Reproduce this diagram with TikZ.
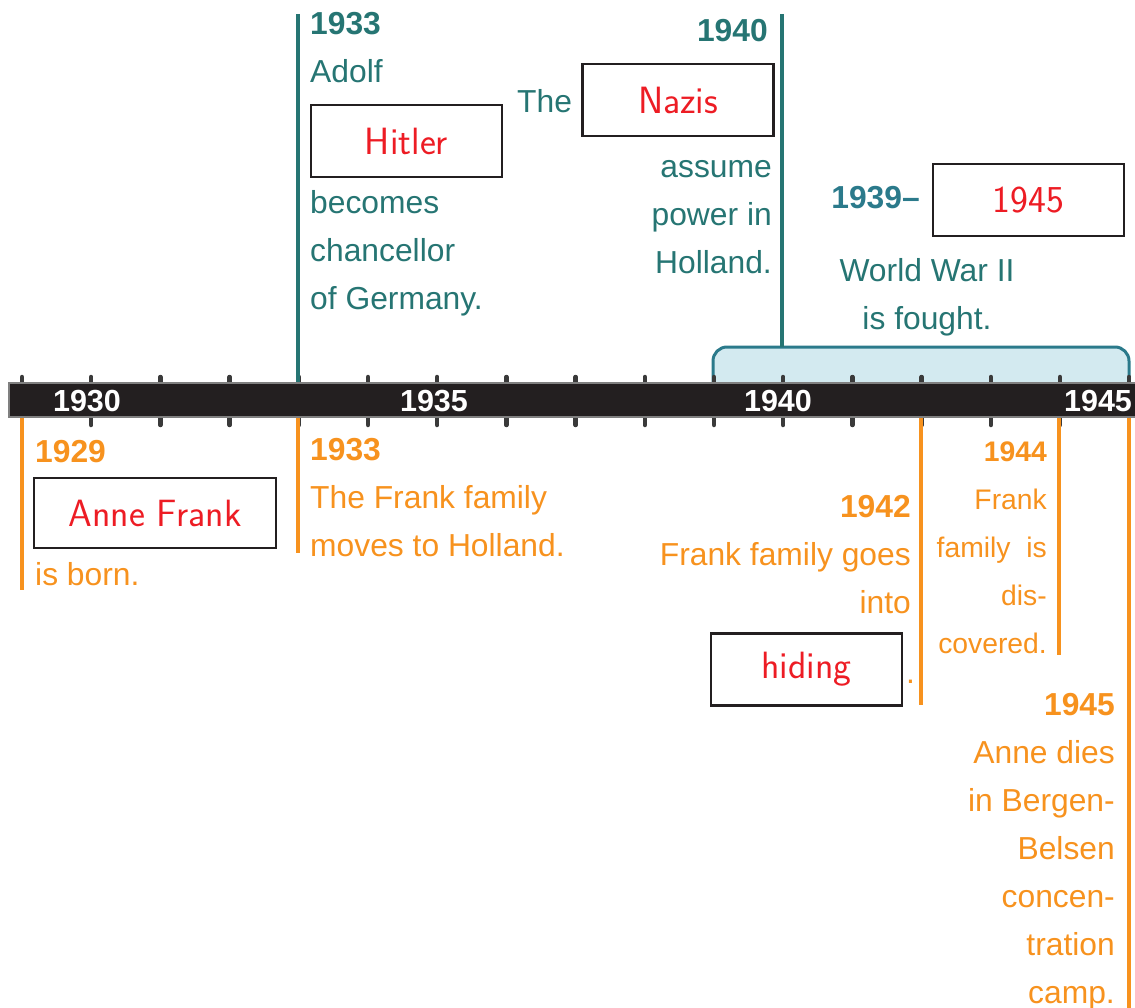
\documentclass[tikz,border=0pt]{standalone}
\usepackage{fontspec}
\setmainfont{Liberation Sans}
\usepackage{xcolor}
\usetikzlibrary{positioning,calc}
\definecolor{tealT}{HTML}{267573}
\definecolor{tealB}{HTML}{2B7A8B}
\definecolor{orangeO}{HTML}{F7921E}
\definecolor{redW}{HTML}{ED1C24}
\definecolor{barblack}{HTML}{231F20}
\definecolor{brfill}{HTML}{D3EAF0}
\definecolor{tickgray}{HTML}{3A3A3A}

\begin{document}
\begin{tikzpicture}[
          x=1pt, y=-1pt,
          lblT/.style={font={\fontsize{31.8}{48}\selectfont}, text=tealT, inner sep=0},
          lblO/.style={font={\fontsize{31.8}{48}\selectfont}, text=orangeO, inner sep=0},
          yrT/.style={font={\fontsize{31.8}{48}\selectfont\bfseries}, text=tealT, inner sep=0},
          yrO/.style={font={\fontsize{31.8}{48}\selectfont\bfseries}, text=orangeO, inner sep=0},
          narrow/.style={font={\fontsize{28.3}{48}\selectfont}},
          yrbar/.style={font={\fontsize{30.5}{36}\selectfont\bfseries}, text=white, inner sep=0},
          wordbox/.style={draw=barblack, line width=2.8, minimum width=191, minimum height=72, inner sep=0,
            font={\sffamily\fontsize{38}{40}\selectfont}, text=redW},
          lineT/.style={draw=tealT, line width=4.5},
          lineO/.style={draw=orangeO, line width=4},
          tk/.style={draw=tickgray, line width=4.5, line cap=round},
          brk/.style={draw=tealB, fill=brfill, line width=3, rounded corners=14}
      ]
        \useasboundingbox (0,0) rectangle (1135,1008);
        \draw[brk] (713,383) -- (713,347) -- (1129,347) -- (1129,383);
        \foreach \k in {0,...,16}
          \draw[tk] ({22+69.2*\k},377) -- ({22+69.2*\k},425);
        \node[draw=gray, line width=1.5, fill=barblack, minimum width=1127, minimum height=34,
              inner sep=0, anchor=west] (bar) at (8,400) {};
        \node[yrbar] (y1930) at (87,401) {1930};
        \node[yrbar] (y1935) at (434,401) {1935};
        \node[yrbar] (y1940) at (778,401) {1940};
        \node[yrbar] (y1945) at (1098,401) {1945};

        \coordinate (top33) at (298,14);
        \coordinate (top40) at (782,14);
        \coordinate (brtop) at (782,347);
        \draw[lineT] (top33) -- (top33 |- bar.north);
        \draw[lineT] (top40) -- (brtop);

        \node[yrT, anchor=base west] (t1933) at (310,35) {1933};
        \node[lblT, anchor=base west] (adolf) at (310,83) {Adolf};
        \node[wordbox] (hitler) at (406.5,141) {Hitler};
        \node[lblT, anchor=base west, align=left] (chanc) at (310,309) {becomes\\chancellor\\of Germany.};
        \node[lblT, anchor=base west] (the) at (517,113) {The};
        \node[wordbox] (nazis) at (678,100) {Nazis};
        \node[yrT, anchor=base east] (t1940) at (768,42) {1940};
        \node[lblT, anchor=base east, align=right] (assume) at (772,274) {assume\\power in\\Holland.};
        \node[yrT, text=tealB, anchor=base east] (t1939) at (920,209) {1939--};
        \node[wordbox] (war) at (1028.5,200) {1945};
        \node[lblT, anchor=base, align=center] (fought) at (927,330) {World War II\\is fought.};

        \coordinate (end29) at (22,590);
        \coordinate (end33) at (298,553);
        \coordinate (end42) at (921,705);
        \coordinate (end44) at (1059,655);
        \coordinate (end45) at (1129,1008);
        \foreach \e in {end29,end33,end42,end44,end45}
          \draw[lineO] (\e |- bar.south) -- (\e);

        \node[yrO, anchor=base west] (o1929) at (35,462) {1929};
        \node[wordbox, minimum width=242, minimum height=70] (anne) at (155,513) {Anne Frank};
        \node[lblO, anchor=base west] (born) at (35,585) {is born.};
        \node[yrO, anchor=base west] (o1933) at (310,460) {1933};
        \node[lblO, anchor=base west, align=left] (moves) at (310,556) {The Frank family\\moves to Holland.};
        \node[yrO, anchor=base east] (o1942) at (911,517) {1942};
        \node[lblO, anchor=base east, align=right] (goes) at (911,613) {Frank family goes\\into};
        \node[wordbox] (hiding) at (806.5,669.5) {hiding};
        \node[lblO, anchor=base west] (dot) at (906,683) {.};
        \node[yrO, anchor=base east, font={\fontsize{28.3}{48}\selectfont\bfseries}] (o1944) at (1047,461) {1944};
        \node[lblO, narrow, anchor=base east, align=right] (disc) at (1047,653) {Frank\\family\ \ is\\dis-\\covered.};
        \node[yrO, anchor=base east] (o1945) at (1115,715) {1945};
        \node[lblO, anchor=base east, align=right] (dies) at (1115,1003) {Anne dies\\in Bergen-\\Belsen\\concen-\\tration\\camp.};
      \end{tikzpicture}
\end{document}
